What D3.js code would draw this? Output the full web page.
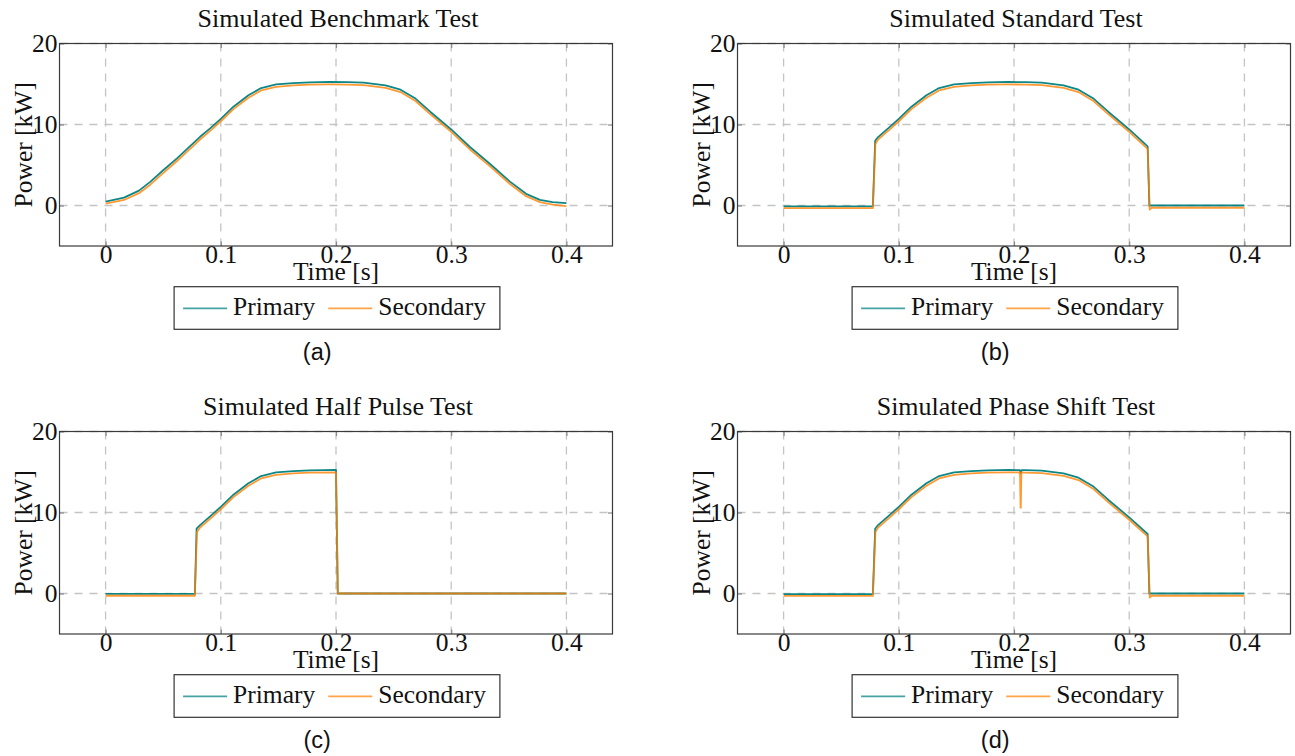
<!DOCTYPE html>
<html>
<head>
<meta charset="utf-8">
<script src="https://cdn.jsdelivr.net/npm/d3@7"></script>
<style>
  html, body { margin: 0; padding: 0; background: #fff; }
  svg { display: block; }
</style>
</head>
<body>
<svg id="fig" width="1295" height="756"></svg>
<script>
// Shared axis settings
const X_DOMAIN = [-0.04, 0.44];
const Y_DOMAIN = [-5, 20];
const X_TICKS = [0, 0.1, 0.2, 0.3, 0.4];
const Y_TICKS = [0, 10, 20];
const X_TICK_LABELS = ["0", "0.1", "0.2", "0.3", "0.4"];
const Y_TICK_LABELS = ["0", "10", "20"];
const SERIES_NAMES = ["Primary", "Secondary"];
const X_LABEL = "Time [s]";
const Y_LABEL = "Power [kW]";

// (a) Benchmark: [time s, power kW]
const benchmarkPrimary = [
  [0, 0.49], [0.016, 0.98], [0.029, 1.84], [0.039, 2.95], [0.05, 4.35], [0.062, 5.82],
  [0.072, 7.14], [0.082, 8.48], [0.091, 9.56], [0.1, 10.7], [0.111, 12.2], [0.124, 13.6],
  [0.135, 14.5], [0.148, 14.95], [0.163, 15.1], [0.177, 15.2], [0.195, 15.25], [0.21, 15.22],
  [0.224, 15.16], [0.243, 14.83], [0.256, 14.3], [0.269, 13.2], [0.282, 11.55], [0.3, 9.39],
  [0.316, 7.25], [0.334, 5.09], [0.351, 2.95], [0.365, 1.44], [0.377, 0.7], [0.388, 0.42], [0.4, 0.29]
];
const benchmarkSecondary = [
  [0, 0.22], [0.016, 0.68], [0.029, 1.52], [0.039, 2.6], [0.05, 4.0], [0.062, 5.5],
  [0.072, 6.8], [0.082, 8.15], [0.091, 9.25], [0.1, 10.4], [0.111, 11.9], [0.124, 13.3],
  [0.135, 14.2], [0.148, 14.65], [0.163, 14.82], [0.177, 14.92], [0.195, 14.95], [0.21, 14.93],
  [0.224, 14.86], [0.243, 14.53], [0.256, 14.0], [0.269, 12.9], [0.282, 11.25], [0.3, 9.1],
  [0.316, 6.95], [0.334, 4.8], [0.351, 2.65], [0.365, 1.15], [0.377, 0.42], [0.388, 0.12], [0.4, -0.07]
];

// (b) Standard
const standardPrimary = [
  [0, -0.1], [0.0775, -0.1], [0.0795, 8.0], [0.082, 8.45], [0.091, 9.56], [0.1, 10.7],
  [0.111, 12.2], [0.124, 13.6], [0.135, 14.5], [0.148, 14.95], [0.163, 15.1], [0.177, 15.2],
  [0.195, 15.25], [0.21, 15.22], [0.224, 15.16], [0.243, 14.83], [0.256, 14.3], [0.269, 13.2],
  [0.282, 11.55], [0.3, 9.39], [0.316, 7.3], [0.3175, 0.0], [0.4, 0.0]
];
const standardSecondary = [
  [0, -0.32], [0.0775, -0.32], [0.0797, 7.6], [0.082, 8.15], [0.091, 9.25], [0.1, 10.4],
  [0.111, 11.9], [0.124, 13.3], [0.135, 14.2], [0.148, 14.65], [0.163, 14.82], [0.177, 14.92],
  [0.195, 14.95], [0.21, 14.93], [0.224, 14.86], [0.243, 14.53], [0.256, 14.0], [0.269, 12.9],
  [0.282, 11.25], [0.3, 9.1], [0.316, 7.0], [0.3178, -0.5], [0.3195, -0.28], [0.4, -0.28]
];

// (c) Half pulse
const halfPulsePrimary = [
  [0, -0.05], [0.0775, -0.05], [0.079, 8.0], [0.082, 8.45], [0.091, 9.56], [0.1, 10.7],
  [0.111, 12.2], [0.124, 13.6], [0.135, 14.5], [0.148, 14.95], [0.163, 15.1], [0.177, 15.2],
  [0.2, 15.25], [0.2015, 0.0], [0.4, 0.0]
];
const halfPulseSecondary = [
  [0, -0.28], [0.0775, -0.28], [0.0793, 7.6], [0.082, 8.15], [0.091, 9.25], [0.1, 10.4],
  [0.111, 11.9], [0.124, 13.3], [0.135, 14.2], [0.148, 14.65], [0.163, 14.82], [0.177, 14.92],
  [0.2, 14.95], [0.2017, 0.0], [0.4, 0.0]
];

// (d) Phase shift
const phaseShiftPrimary = [
  [0, -0.07], [0.0775, -0.07], [0.0795, 8.0], [0.082, 8.45], [0.091, 9.56], [0.1, 10.7],
  [0.111, 12.2], [0.124, 13.6], [0.135, 14.5], [0.148, 14.95], [0.163, 15.1], [0.177, 15.2],
  [0.195, 15.25], [0.2052, 15.23], [0.2058, 14.85], [0.2066, 15.22], [0.21, 15.22],
  [0.224, 15.16], [0.243, 14.83], [0.256, 14.3], [0.269, 13.2], [0.282, 11.55], [0.3, 9.39],
  [0.316, 7.35], [0.3175, 0.0], [0.4, 0.0]
];
const phaseShiftSecondary = [
  [0, -0.3], [0.0775, -0.3], [0.0797, 7.6], [0.082, 8.15], [0.091, 9.25], [0.1, 10.4],
  [0.111, 11.9], [0.124, 13.3], [0.135, 14.2], [0.148, 14.65], [0.163, 14.82], [0.177, 14.92],
  [0.195, 14.95], [0.2052, 14.94], [0.2057, 10.6], [0.2059, 10.6], [0.2064, 14.94], [0.21, 14.93],
  [0.224, 14.86], [0.243, 14.53], [0.256, 14.0], [0.269, 12.9], [0.282, 11.25], [0.3, 9.1],
  [0.316, 7.05], [0.3178, -0.5], [0.3195, -0.28], [0.4, -0.28]
];

const panelTitles = [
  "Simulated Benchmark Test", "Simulated Standard Test",
  "Simulated Half Pulse Test", "Simulated Phase Shift Test"
];
const panelCaptions = ["(a)", "(b)", "(c)", "(d)"];

// Styling
const SERIF = "'Liberation Serif', 'Times New Roman', serif";
const SANS = "'Liberation Sans', Arial, sans-serif";
const FS = 25.5;
const TITLE_FS = 26;
const PRIMARY_COLOR = "#008080";
const SECONDARY_COLOR = "#ff7f00";
const PLOT_W = 553, PLOT_H = 202.5;

const panels = [
  { left: 59.5, top: 43.5, title: panelTitles[0], caption: panelCaptions[0], series: [benchmarkPrimary, benchmarkSecondary] },
  { left: 737.5, top: 43.5, title: panelTitles[1], caption: panelCaptions[1], series: [standardPrimary, standardSecondary] },
  { left: 59.5, top: 431.5, title: panelTitles[2], caption: panelCaptions[2], series: [halfPulsePrimary, halfPulseSecondary] },
  { left: 737.5, top: 431.5, title: panelTitles[3], caption: panelCaptions[3], series: [phaseShiftPrimary, phaseShiftSecondary] }
];

const svg = d3.select("#fig");
svg.append("rect").attr("width", 1295).attr("height", 756).attr("fill", "#fff");

const seriesStyle = [
  { color: PRIMARY_COLOR, opacity: 0.95 },
  { color: SECONDARY_COLOR, opacity: 0.8 }
];

panels.forEach((p, i) => {
  const g = svg.append("g").attr("transform", `translate(${p.left},${p.top})`);
  const x = d3.scaleLinear().domain(X_DOMAIN).range([0, PLOT_W]);
  const y = d3.scaleLinear().domain(Y_DOMAIN).range([PLOT_H, 0]);
  const cx = PLOT_W / 2;

  // dashed grid at the major ticks
  const grid = g.append("g").attr("stroke", "#c4c4c4").attr("stroke-width", 1.3)
    .attr("stroke-dasharray", "8,7").attr("fill", "none");
  X_TICKS.forEach(t => grid.append("line")
    .attr("x1", x(t)).attr("x2", x(t)).attr("y1", 0).attr("y2", PLOT_H));
  Y_TICKS.forEach(t => grid.append("line")
    .attr("x1", 0).attr("x2", PLOT_W).attr("y1", y(t)).attr("y2", y(t)));

  // data lines
  const clipId = "clip" + i;
  g.append("clipPath").attr("id", clipId).append("rect")
    .attr("width", PLOT_W).attr("height", PLOT_H);
  const line = d3.line().x(d => x(d[0])).y(d => y(d[1]));
  p.series.forEach((s, k) => {
    g.append("path").datum(s)
      .attr("clip-path", `url(#${clipId})`)
      .attr("d", line)
      .attr("fill", "none")
      .attr("stroke", seriesStyle[k].color)
      .attr("stroke-opacity", seriesStyle[k].opacity)
      .attr("stroke-width", 1.8)
      .attr("stroke-linejoin", "round");
  });

  // axes: ticks inside on all four sides
  const tickLen = 4.5;
  const bottomAxis = d3.axisBottom(x).tickValues(X_TICKS)
    .tickFormat((d, j) => X_TICK_LABELS[j]).tickSizeInner(-tickLen).tickSizeOuter(0).tickPadding(0);
  const topAxis = d3.axisTop(x).tickValues(X_TICKS).tickFormat("").tickSizeInner(-tickLen).tickSizeOuter(0);
  const leftAxis = d3.axisLeft(y).tickValues(Y_TICKS)
    .tickFormat((d, j) => Y_TICK_LABELS[j]).tickSizeInner(-tickLen).tickSizeOuter(0).tickPadding(0);
  const rightAxis = d3.axisRight(y).tickValues(Y_TICKS).tickFormat("").tickSizeInner(-tickLen).tickSizeOuter(0);

  const styleAxis = sel => {
    sel.select(".domain").remove();
    sel.selectAll(".tick line").attr("stroke", "#8a8a8a").attr("stroke-width", 1.2);
  };
  const gb = g.append("g").attr("transform", `translate(0,${PLOT_H})`).call(bottomAxis).call(styleAxis);
  gb.selectAll(".tick text")
    .attr("font-family", SERIF).attr("font-size", FS).attr("fill", "#111")
    .attr("y", 17.3).attr("dy", 0).attr("text-anchor", "middle");
  g.append("g").call(topAxis).call(styleAxis);
  const gl = g.append("g").call(leftAxis).call(styleAxis);
  gl.selectAll(".tick text")
    .attr("font-family", SERIF).attr("font-size", FS).attr("fill", "#111")
    .attr("x", -2).attr("dy", "0.33em").attr("text-anchor", "end");
  g.append("g").attr("transform", `translate(${PLOT_W},0)`).call(rightAxis).call(styleAxis);
  g.selectAll(".tick text").attr("font-family", SERIF).attr("font-size", FS);

  // frame
  g.append("rect").attr("width", PLOT_W).attr("height", PLOT_H)
    .attr("fill", "none").attr("stroke", "#3a3a3a").attr("stroke-width", 1.2);

  // title and axis labels
  g.append("text").attr("x", cx + 2).attr("y", -16.5).attr("text-anchor", "middle")
    .attr("font-family", SERIF).attr("font-size", TITLE_FS).attr("fill", "#111").text(p.title);
  g.append("text").attr("x", cx).attr("y", PLOT_H + 34).attr("text-anchor", "middle")
    .attr("font-family", SERIF).attr("font-size", FS).attr("fill", "#111").text(X_LABEL);
  g.append("text")
    .attr("transform", `translate(-28,${PLOT_H / 2}) rotate(-90)`)
    .attr("text-anchor", "middle")
    .attr("font-family", SERIF).attr("font-size", FS).attr("fill", "#111").text(Y_LABEL);

  // legend, sized to its entries and centred under the plot
  const lg = g.append("g");
  const box = lg.append("rect").attr("y", 0).attr("height", 42.6)
    .attr("fill", "#fff").attr("stroke", "#333").attr("stroke-width", 1.2);
  let cursor = 9;
  SERIES_NAMES.forEach((name, k) => {
    lg.append("line").attr("x1", cursor).attr("x2", cursor + 44)
      .attr("y1", 21.6).attr("y2", 21.6)
      .attr("stroke", seriesStyle[k].color).attr("stroke-opacity", 0.72).attr("stroke-width", 1.7);
    cursor += 50;
    const tx = lg.append("text").attr("x", cursor).attr("y", 28.3)
      .attr("font-family", SERIF).attr("font-size", FS).attr("fill", "#111").text(name);
    cursor += tx.node().getComputedTextLength() + (k === 0 ? 13 : 14);
  });
  box.attr("x", 0).attr("width", cursor);
  lg.attr("transform", `translate(${cx - cursor / 2 + 1},${PLOT_H + 40.7})`);

  // sub-figure caption
  g.append("text").attr("x", 257.7).attr("y", PLOT_H + 114)
    .attr("text-anchor", "middle").attr("font-family", SANS).attr("font-size", 23.5)
    .attr("fill", "#111").text(p.caption);
});
</script>
</body>
</html>
